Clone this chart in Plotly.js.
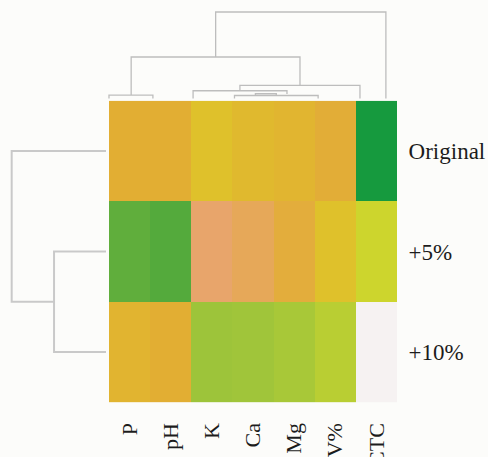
<!DOCTYPE html>
<html>
<head>
<meta charset="utf-8">
<script src="https://cdn.plot.ly/plotly-3.0.1.min.js"></script>
<style>html,body{margin:0;padding:0;background:#fcfcfa;}#chart{width:488px;height:457px;}</style>
</head>
<body>
<div id="chart"></div>
<script>
// ---- data ----
const cols = ['P', 'pH', 'K', 'Ca', 'Mg', 'V%', 'CTC'];
const rows = ['Original', '+5%', '+10%'];
const zOriginal = [0.30, 0.30, 0.45, 0.387, 0.355, 0.29, 1.00];
const zPlus5    = [0.83, 0.85, 0.15, 0.198, 0.276, 0.45, 0.60];
const zPlus10   = [0.348, 0.30, 0.725, 0.72, 0.698, 0.653, 0.0];

// top (column) dendrogram: merge nodes in leaf units / relative heights
const topX1 = [0, 3.0, 3.5, 2.01, 3.13, 0.53, 2.55];
const topX2 = [1.05, 5.0, 4.0, 4.255, 6.0, 4.566, 6.62];
const topH  = [0.04, 0.035, 0.055, 0.09, 0.153, 0.48, 1.0];
const topH1 = [0, 0, 0.035, 0, 0.09, 0.04, 0.48];
const topH2 = [0, 0, 0.035, 0.052, 0, 0.153, 0];

// left (row) dendrogram
const leftY1 = [1, 0];
const leftY2 = [2, 1.5];
const leftH  = [0.551, 1.0];
const leftH1 = [0, 0];
const leftH2 = [0, 0.551];

// ---- build ----
function dendroPath(p1, p2, h, h1, h2) {
  const a = [], b = [];
  for (let i = 0; i < h.length; i++) {
    a.push(p1[i], p1[i], p2[i], p2[i], null);
    b.push(h1[i], h[i], h[i], h2[i], null);
  }
  return [a, b];
}
const [tx, th] = dendroPath(topX1, topX2, topH, topH1, topH2);
const [ly, lh] = dendroPath(leftY1, leftY2, leftH, leftH1, leftH2);

const W = 488, H = 457;
const px = v => v / W, py = v => 1 - v / H;

const colorscale = [
  [0.00, '#f6f2f2'], [0.15, '#e8a56b'], [0.30, '#e2ae33'], [0.45, '#dfc12b'],
  [0.60, '#cdd52d'], [0.72, '#a0c53a'], [0.85, '#54aa3c'], [1.00, '#169a3e']
];

const traces = [
  {
    type: 'heatmap', x: cols, y: rows, z: [zOriginal, zPlus5, zPlus10],
    colorscale: colorscale, zmin: 0, zmax: 1, showscale: false,
    xaxis: 'x', yaxis: 'y', hoverinfo: 'skip'
  },
  {
    type: 'scatter', mode: 'lines', x: tx, y: th, xaxis: 'x2', yaxis: 'y2',
    line: {color: '#bdbdbd', width: 1.3}, hoverinfo: 'skip', connectgaps: false
  },
  {
    type: 'scatter', mode: 'lines', x: lh, y: ly, xaxis: 'x3', yaxis: 'y3',
    line: {color: '#c9c9c9', width: 2}, hoverinfo: 'skip', connectgaps: false
  }
];

const serif = {family: 'Liberation Serif, Times New Roman, serif', color: '#1c1c1c'};
const hidden = {showgrid: false, zeroline: false, showticklabels: false, showline: false, ticks: ''};

const layout = {
  width: W, height: H,
  margin: {l: 0, r: 0, t: 0, b: 0, pad: 0},
  paper_bgcolor: '#fcfcfa', plot_bgcolor: 'rgba(0,0,0,0)',
  showlegend: false, hovermode: false,
  xaxis: {
    type: 'category', domain: [px(109), px(397)], anchor: 'y',
    tickangle: -90, ticks: 'outside', ticklen: 11, tickcolor: 'rgba(0,0,0,0)',
    tickfont: Object.assign({size: 22}, serif), showgrid: false, zeroline: false
  },
  yaxis: {
    type: 'category', domain: [py(402.3), py(100.7)], anchor: 'x', side: 'right', autorange: 'reversed',
    ticks: 'outside', ticklen: 6, tickcolor: 'rgba(0,0,0,0)',
    tickfont: Object.assign({size: 23}, serif), showgrid: false, zeroline: false
  },
  xaxis2: Object.assign({domain: [px(100), px(400)], range: [-0.215, 6.957], anchor: 'y2'}, hidden),
  yaxis2: Object.assign({domain: [0.775, 0.985], range: [-0.0497, 1.0595], anchor: 'x2'}, hidden),
  xaxis3: Object.assign({domain: [0, px(108)], range: [1.124, -0.0212], anchor: 'y3'}, hidden),
  yaxis3: Object.assign({domain: [py(402.3), py(100.7)], range: [2.5, -0.5], anchor: 'x3'}, hidden)
};

Plotly.newPlot('chart', traces, layout, {staticPlot: true, displayModeBar: false});
</script>
</body>
</html>
